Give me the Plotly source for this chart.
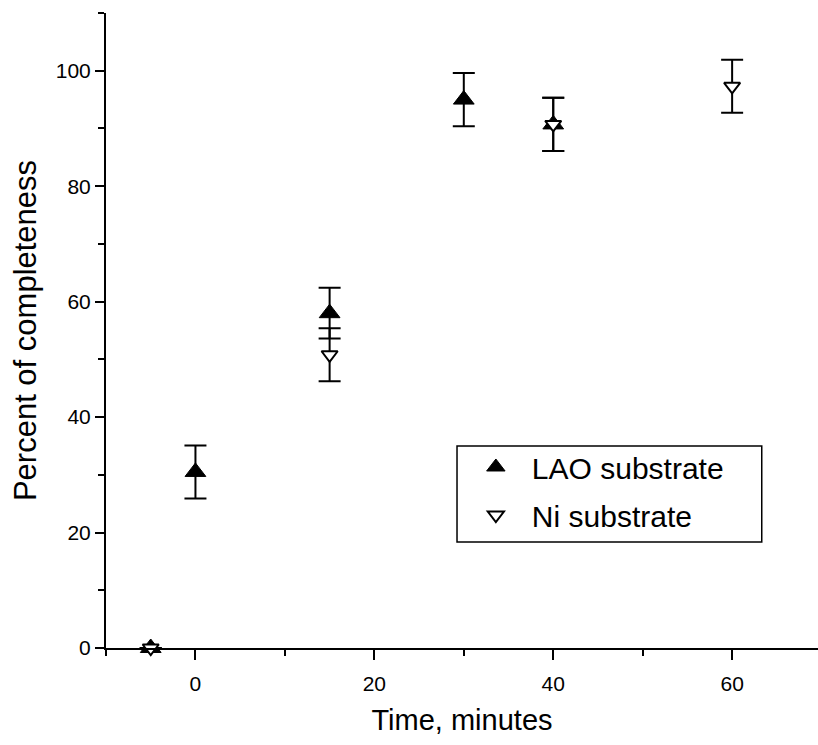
import plotly.graph_objects as go

# Reaction progress vs time for two substrates
lao_time = [-5, 0, 15, 30, 40]
lao_pct = [0, 30.5, 58.0, 95.0, 90.7]
lao_err = [0, 4.6, 4.4, 4.6, 4.6]

ni_time = [-5, 15, 40, 60]
ni_pct = [0, 50.8, 90.7, 97.3]
ni_err = [0, 4.6, 4.6, 4.6]

x_ticks = [0, 20, 40, 60]
y_ticks = [0, 20, 40, 60, 80, 100]

FONT = "Liberation Sans, Arial, sans-serif"

fig = go.Figure()

fig.add_trace(go.Scatter(
    x=lao_time, y=lao_pct, mode="markers", name="LAO substrate",
    legendgroup="lao",
    marker=dict(symbol="triangle-up", size=18, color="black",
                line=dict(color="black", width=1)),
    error_y=dict(type="data", array=lao_err, visible=True,
                 color="black", thickness=2, width=11),
    cliponaxis=False,
))

fig.add_trace(go.Scatter(
    x=ni_time, y=ni_pct, mode="markers", name="Ni substrate",
    legendgroup="ni",
    marker=dict(symbol="triangle-down", size=14, color="white",
                line=dict(color="black", width=2)),
    error_y=dict(type="data", array=ni_err, visible=True,
                 color="black", thickness=2, width=11),
    cliponaxis=False,
))

# frame around the legend
fig.add_shape(type="rect", xref="paper", yref="paper",
              x0=0.493, x1=0.921, y0=0.167, y1=0.318,
              line=dict(color="black", width=1.5), fillcolor="white",
              layer="below")

fig.update_layout(
    width=818, height=745,
    margin=dict(l=106, r=0, t=13, b=97),
    paper_bgcolor="white", plot_bgcolor="white",
    font=dict(family=FONT, color="black"),
    showlegend=True,
    legend=dict(
        x=0.497, y=0.326, xanchor="left", yanchor="top",
        borderwidth=0, bgcolor="rgba(0,0,0,0)",
        font=dict(size=30, family=FONT),
        itemwidth=62, tracegroupgap=6,
    ),
    xaxis=dict(
        range=[-10, 69.6], showgrid=False, zeroline=False,
        showline=True, linecolor="black", linewidth=2,
        tickmode="array", tickvals=x_ticks,
        ticks="outside", ticklen=10, tickwidth=2, tickcolor="black",
        minor=dict(tick0=0, dtick=10, ticks="outside", ticklen=6,
                   tickwidth=2, tickcolor="black"),
        tickfont=dict(size=21, family=FONT), ticklabelstandoff=6,
        title=dict(text="Time, minutes", font=dict(size=29, family=FONT),
                   standoff=15),
    ),
    yaxis=dict(
        range=[0, 110], showgrid=False, zeroline=False,
        showline=True, linecolor="black", linewidth=2,
        tickmode="array", tickvals=y_ticks,
        ticks="outside", ticklen=9, tickwidth=2, tickcolor="black",
        minor=dict(tick0=0, dtick=10, ticks="outside", ticklen=6,
                   tickwidth=2, tickcolor="black"),
        tickfont=dict(size=21, family=FONT),
        title=dict(text="Percent of completeness",
                   font=dict(size=31, family=FONT), standoff=10),
    ),
)

fig.write_html("out.html")
